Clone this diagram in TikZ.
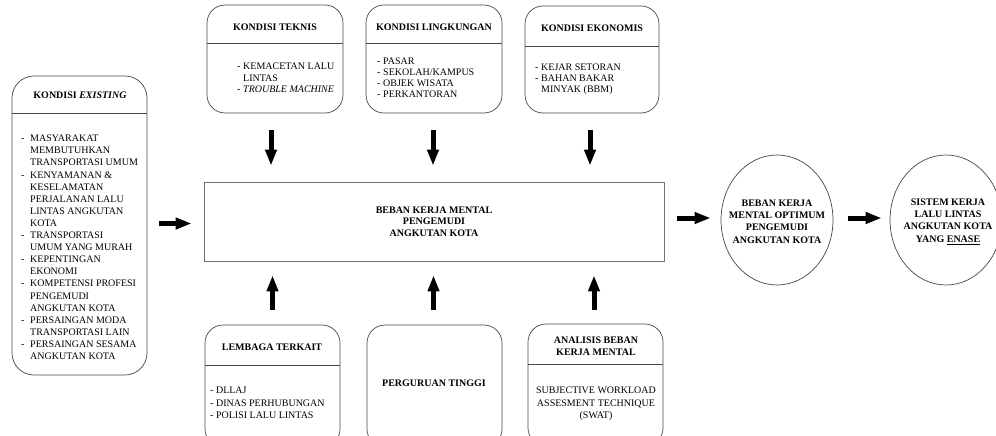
\documentclass[tikz,border=0pt]{standalone}
\usepackage{fontspec}
\setmainfont{Liberation Serif}
\usetikzlibrary{arrows.meta,shapes.geometric}
\newcommand\itm[1]{\makebox[6pt][l]{-}#1}
\newcommand\cnt[1]{\hspace*{6pt}#1}
\newcommand\itmw[1]{\makebox[9pt][l]{-}#1}
\newcommand\cntw[1]{\hspace*{9pt}#1}
\begin{document}
\begin{tikzpicture}[x=1pt,y=-1pt,
  rbox/.style={draw=black!72,line width=0.7pt,rounded corners=18pt,inner sep=0pt,minimum width=135pt},
  divline/.style={draw=black!72,line width=0.7pt},
  ttl/.style={font=\fontsize{10}{12}\selectfont\bfseries,align=center,inner sep=0pt},
  lst/.style={font=\fontsize{10}{11.5}\selectfont,align=left,inner sep=0pt,anchor=north west},
  bigarrow/.style={line width=5pt,-{Triangle[length=16pt,width=11pt]}},
  circ/.style={ellipse,draw=black!72,line width=0.7pt,minimum width=112pt,minimum height=130pt,inner sep=0pt},
  circtext/.style={font=\fontsize{10}{12.3}\selectfont\bfseries,align=center,inner sep=0pt}]
\useasboundingbox (0,0) rectangle (996,436);
\clip (0,0) rectangle (996,436);
\fill[white] (0,0) rectangle (996,436);

% top boxes
\node[rbox,minimum width=136pt,minimum height=108pt] (teknis) at (275,59) {};
\node[rbox,minimum width=136pt,minimum height=108pt] (lingk) at (434,59) {};
\node[rbox,minimum width=134pt,minimum height=107pt] (ekon) at (592,59.5) {};
\draw[divline] (teknis.west |- 0,43) -- (teknis.east |- 0,43);
\draw[divline] (lingk.west |- 0,43) -- (lingk.east |- 0,43);
\draw[divline] (ekon.west |- 0,46) -- (ekon.east |- 0,46);
\node[ttl] (teknisT) at (275,27) {KONDISI TEKNIS};
\node[ttl] (lingkT) at (434,27) {KONDISI LINGKUNGAN};
\node[ttl] (ekonT) at (592,28) {KONDISI EKONOMIS};
\node[lst] (teknisL) at (237,62.5) {\rule{0pt}{7pt}\itm{KEMACETAN LALU}\\\cnt{LINTAS}\\\itm{\textit{TROUBLE MACHINE}}};
\node[lst,font=\fontsize{10}{11}\selectfont] (lingkL) at (377,57) {\rule{0pt}{7pt}\itm{PASAR}\\\itm{SEKOLAH/KAMPUS}\\\itm{OBJEK WISATA}\\\itm{PERKANTORAN}};
\node[lst,font=\fontsize{10}{11}\selectfont] (ekonL) at (535,63) {\rule{0pt}{7pt}\itm{KEJAR SETORAN}\\\itm{BAHAN BAKAR}\\\cnt{MINYAK (BBM)}};

% left box
\node[rbox,minimum width=135pt,minimum height=299pt,rounded corners=22pt] (existing) at (79.5,225.5) {};
\draw[divline] (existing.west |- 0,113) -- (existing.east |- 0,113);
\node[ttl] (existingT) at (80,95) {KONDISI \textit{EXISTING}};
\node[lst,font=\fontsize{10}{12.1}\selectfont] (existingL) at (21,134.5) {\rule{0pt}{7pt}\itmw{MASYARAKAT}\\\cntw{MEMBUTUHKAN}\\\cntw{TRANSPORTASI UMUM}\\
\itmw{KENYAMANAN \&}\\\cntw{KESELAMATAN}\\\cntw{PERJALANAN LALU}\\\cntw{LINTAS ANGKUTAN}\\\cntw{KOTA}\\
\itmw{TRANSPORTASI}\\\cntw{UMUM YANG MURAH}\\\itmw{KEPENTINGAN}\\\cntw{EKONOMI}\\
\itmw{KOMPETENSI PROFESI}\\\cntw{PENGEMUDI}\\\cntw{ANGKUTAN KOTA}\\
\itmw{PERSAINGAN MODA}\\\cntw{TRANSPORTASI LAIN}\\\itmw{PERSAINGAN SESAMA}\\\cntw{ANGKUTAN KOTA}};

% main box
\node[draw=black!55,line width=0.7pt,minimum width=460pt,minimum height=79pt,inner sep=0pt,
  font=\fontsize{10}{11.5}\selectfont\bfseries,align=center] (main) at (434,221.5)
  {BEBAN KERJA MENTAL\\PENGEMUDI\\ANGKUTAN KOTA};

% bottom boxes
\node[rbox,minimum width=135pt,minimum height=122pt] (lembaga) at (272.5,386) {};
\node[rbox,minimum width=135pt,minimum height=122pt] (pergu) at (434.5,386) {};
\node[rbox,minimum width=135pt,minimum height=122pt] (analisis) at (595.5,385) {};
\draw[divline] (lembaga.west |- 0,365) -- (lembaga.east |- 0,365);
\draw[divline] (analisis.west |- 0,364) -- (analisis.east |- 0,364);
\node[ttl] (lembagaT) at (272,347) {LEMBAGA TERKAIT};
\node[ttl] (perguT) at (434,383) {PERGURUAN TINGGI};
\node[ttl] (analisisT) at (596,346) {ANALISIS BEBAN\\KERJA MENTAL};
\node[lst,font=\fontsize{10}{12.5}\selectfont] (lembagaL) at (210,386.5) {\rule{0pt}{7pt}- DLLAJ\\- DINAS PERHUBUNGAN\\- POLISI LALU LINTAS};
\node[lst,font=\fontsize{10}{12.5}\selectfont,align=center,anchor=north] (analisisL) at (596,386.5) {\rule{0pt}{7pt}SUBJECTIVE WORKLOAD\\ASSESMENT TECHNIQUE\\(SWAT)};

% circles
\node[circ] (c1) at (777,220) {};
\node[circ] (c2) at (946,220) {};
\node[circtext] (c1T) at (777,221.5) {BEBAN KERJA\\MENTAL OPTIMUM\\PENGEMUDI\\ANGKUTAN KOTA};
\node[circtext] (c2T) at (948,221.5) {SISTEM KERJA\\LALU LINTAS\\ANGKUTAN KOTA\\YANG \underline{ENASE}};

% arrows
\draw[bigarrow,shorten <=17pt,shorten >=16pt] ([xshift=-4pt]teknis.south) -- ([xshift=-4pt]teknis.south |- main.north);
\draw[bigarrow,shorten <=17pt,shorten >=16pt] ([xshift=-1pt]lingk.south) -- ([xshift=-1pt]lingk.south |- main.north);
\draw[bigarrow,shorten <=17pt,shorten >=16pt] ([xshift=-2pt]ekon.south) -- ([xshift=-2pt]ekon.south |- main.north);
\draw[bigarrow,shorten <=15pt,shorten >=14pt] (lembaga.north) -- (lembaga.north |- main.south);
\draw[bigarrow,shorten <=15pt,shorten >=14pt] ([xshift=-1pt]pergu.north) -- ([xshift=-1pt]pergu.north |- main.south);
\draw[bigarrow,shorten <=14pt,shorten >=14pt] ([xshift=-1.5pt]analisis.north) -- ([xshift=-1.5pt]analisis.north |- main.south);
\draw[bigarrow,shorten <=12pt,shorten >=12pt] ([yshift=2pt]existing.east) -- ([yshift=-2pt]main.west);
\draw[bigarrow,shorten <=13pt,shorten >=10pt] ([yshift=3.5pt]main.east) -- ([yshift=2pt]c1.west);
\draw[bigarrow,shorten <=15pt,shorten >=8pt] ([yshift=2pt]c1.east) -- ([yshift=2pt]c2.west);
\end{tikzpicture}
\end{document}
